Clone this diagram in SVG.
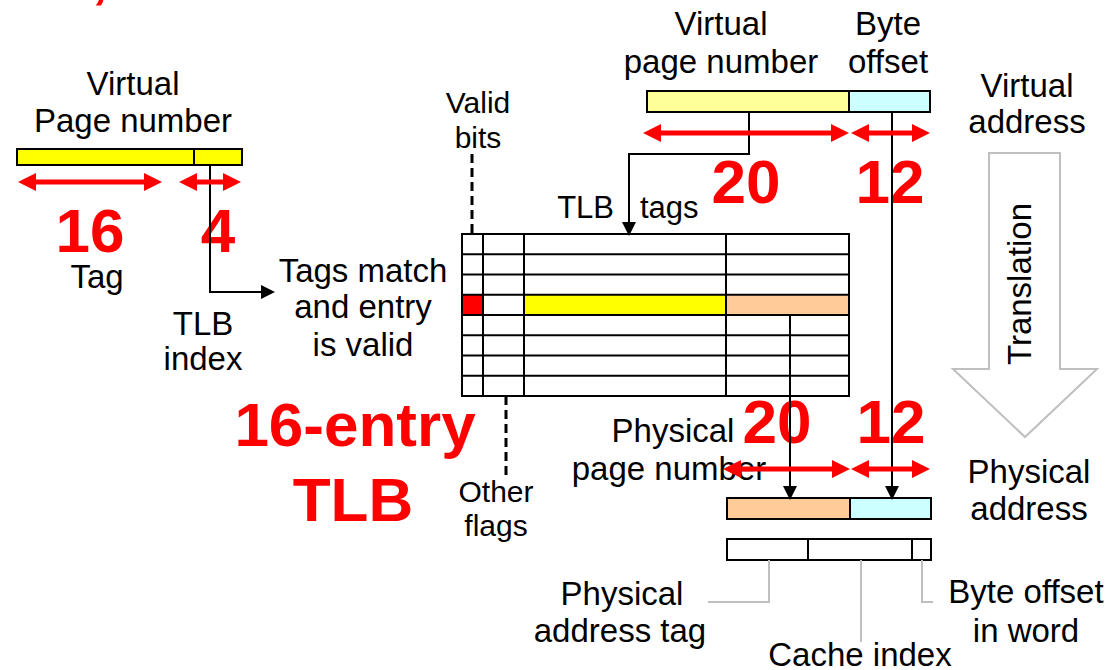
<svg xmlns="http://www.w3.org/2000/svg" width="1109" height="670" viewBox="0 0 1109 670">
<style>
text{font-family:"Liberation Sans",Arial,sans-serif;fill:#000}
.t{font-size:33px;text-anchor:middle}
.s{font-size:30px;text-anchor:middle}
.r{font-size:62px;font-weight:bold;fill:#f00;text-anchor:middle}
.box{stroke:#000;stroke-width:2}
.ra{stroke:#f00;stroke-width:5;fill:none;marker-start:url(#rh);marker-end:url(#rh)}
.ba{stroke:#000;stroke-width:2;fill:none;marker-end:url(#bh)}
.bl{stroke:#000;stroke-width:2;fill:none}
.gl{stroke:#bfbfbf;stroke-width:2;fill:none}
.dash{stroke:#000;stroke-width:3;stroke-dasharray:9 5;fill:none}
</style>
<defs>
<marker id="rh" viewBox="0 0 18 18" refX="10" refY="9" markerWidth="18" markerHeight="18" orient="auto-start-reverse" markerUnits="userSpaceOnUse"><path d="M0,0 L18,9 L0,18 z" fill="#f00"/></marker>
<marker id="bh" viewBox="0 0 14 14" refX="12" refY="7" markerWidth="14" markerHeight="14" orient="auto" markerUnits="userSpaceOnUse"><path d="M0,0 L14,7 L0,14 z" fill="#000"/></marker>
</defs>
<rect width="1109" height="670" fill="#fff"/>
<text x="92" y="-3" style="font-size:56px;font-weight:bold;fill:#f00">,</text>

<g id="translation">
<polygon points="989,153 1060,153 1060,369 1097,369 1025,437 953,369 989,369" fill="#fff" stroke="#bfbfbf" stroke-width="2"/>
<text class="t" x="1031" y="284" transform="rotate(-90 1031 284)">Translation</text>
</g>

<g id="left-vpn">
<text class="t" x="133" y="95">Virtual</text>
<text class="t" x="133" y="132">Page number</text>
<rect class="box" x="17" y="149" width="225" height="16" fill="#ff0"/>
<line class="bl" x1="194" y1="149" x2="194" y2="165"/>
<text class="r" x="90" y="252">16</text>
<text class="r" x="218" y="252">4</text>
<text class="t" x="97" y="288">Tag</text>
<text class="t" x="203" y="335">TLB</text>
<text class="t" x="203" y="370">index</text>
</g>

<g id="virtual-address">
<text class="t" x="721" y="35">Virtual</text>
<text class="t" x="721" y="73">page number</text>
<text class="t" x="888" y="35">Byte</text>
<text class="t" x="888" y="73">offset</text>
<text class="t" x="1027" y="97">Virtual</text>
<text class="t" x="1027" y="133">address</text>
<rect class="box" x="647" y="91" width="202" height="21" fill="#ffff99"/>
<rect class="box" x="849" y="91" width="81" height="21" fill="#ccffff"/>
<text class="r" x="746" y="203">20</text>
<text class="r" x="890" y="203">12</text>
</g>

<g id="tlb-labels">
<text class="s" x="478" y="113">Valid</text>
<text class="s" x="478" y="148">bits</text>
<text x="614" y="218" style="font-size:31px;text-anchor:end">TLB</text>
<text x="640" y="218" style="font-size:31px">tags</text>
<text class="t" x="363" y="282">Tags match</text>
<text class="t" x="363" y="318">and entry</text>
<text class="t" x="363" y="356">is valid</text>
<text class="r" x="355" y="446">16-entry</text>
<text class="r" x="353" y="521">TLB</text>
<text class="s" x="496" y="502">Other</text>
<text class="s" x="496" y="536">flags</text>
</g>

<g id="tlb">
<rect x="462" y="234" width="387" height="162" fill="#fff"/>
<rect x="462" y="295" width="21" height="20" fill="#f00"/>
<rect x="524" y="295" width="202" height="20" fill="#ff0"/>
<rect x="726" y="295" width="123" height="20" fill="#ffcc99"/>
<g class="bl">
<rect x="462" y="234" width="387" height="162"/>
<line x1="462" y1="254.3" x2="849" y2="254.3"/>
<line x1="462" y1="274.5" x2="849" y2="274.5"/>
<line x1="462" y1="294.8" x2="849" y2="294.8"/>
<line x1="462" y1="315" x2="849" y2="315"/>
<line x1="462" y1="335.3" x2="849" y2="335.3"/>
<line x1="462" y1="355.5" x2="849" y2="355.5"/>
<line x1="462" y1="375.8" x2="849" y2="375.8"/>
<line x1="483" y1="234" x2="483" y2="396"/>
<line x1="524" y1="234" x2="524" y2="396"/>
<line x1="726" y1="234" x2="726" y2="396"/>
</g>
</g>

<g id="physical-address">
<text class="t" x="673" y="442">Physical</text>
<text class="t" x="669" y="480">page number</text>
<text class="t" x="1029" y="483">Physical</text>
<text class="t" x="1029" y="520">address</text>
<rect class="box" x="727" y="498" width="123" height="21" fill="#ffcc99"/>
<rect class="box" x="850" y="498" width="81" height="21" fill="#ccffff"/>
<text class="r" x="777" y="443">20</text>
<text class="r" x="891" y="443">12</text>
</g>

<g id="cache-fields">
<rect class="box" x="727" y="539" width="204" height="21" fill="#fff"/>
<line class="bl" x1="808" y1="539" x2="808" y2="560"/>
<line class="bl" x1="912" y1="539" x2="912" y2="560"/>
<text class="t" x="622" y="605">Physical</text>
<text class="t" x="620" y="642">address tag</text>
<text class="t" x="860" y="666">Cache index</text>
<text class="t" x="1026" y="603">Byte offset</text>
<text class="t" x="1026" y="642">in word</text>
</g>

<g id="connectors">
<polyline class="ba" points="210,165 210,292 273,292"/>
<polyline class="ba" points="749,112 749,154 629,154 629,234"/>
<line class="ba" x1="892" y1="112" x2="892" y2="498"/>
<line class="ba" x1="790" y1="315" x2="790" y2="498"/>
<line class="dash" x1="472" y1="154" x2="472" y2="234"/>
<line class="dash" x1="506" y1="396" x2="506" y2="478"/>
<polyline class="gl" points="769,560 769,602 708,602"/>
<line class="gl" x1="861" y1="560" x2="861" y2="642"/>
<polyline class="gl" points="922,560 922,602 933,602"/>
<line class="ra" x1="26" y1="182" x2="154" y2="182"/>
<line class="ra" x1="187" y1="182" x2="233" y2="182"/>
<line class="ra" x1="651" y1="133" x2="841" y2="133"/>
<line class="ra" x1="859" y1="133" x2="922" y2="133"/>
<line class="ra" x1="731" y1="469" x2="842" y2="469"/>
<line class="ra" x1="859" y1="469" x2="922" y2="469"/>
</g>
</svg>
